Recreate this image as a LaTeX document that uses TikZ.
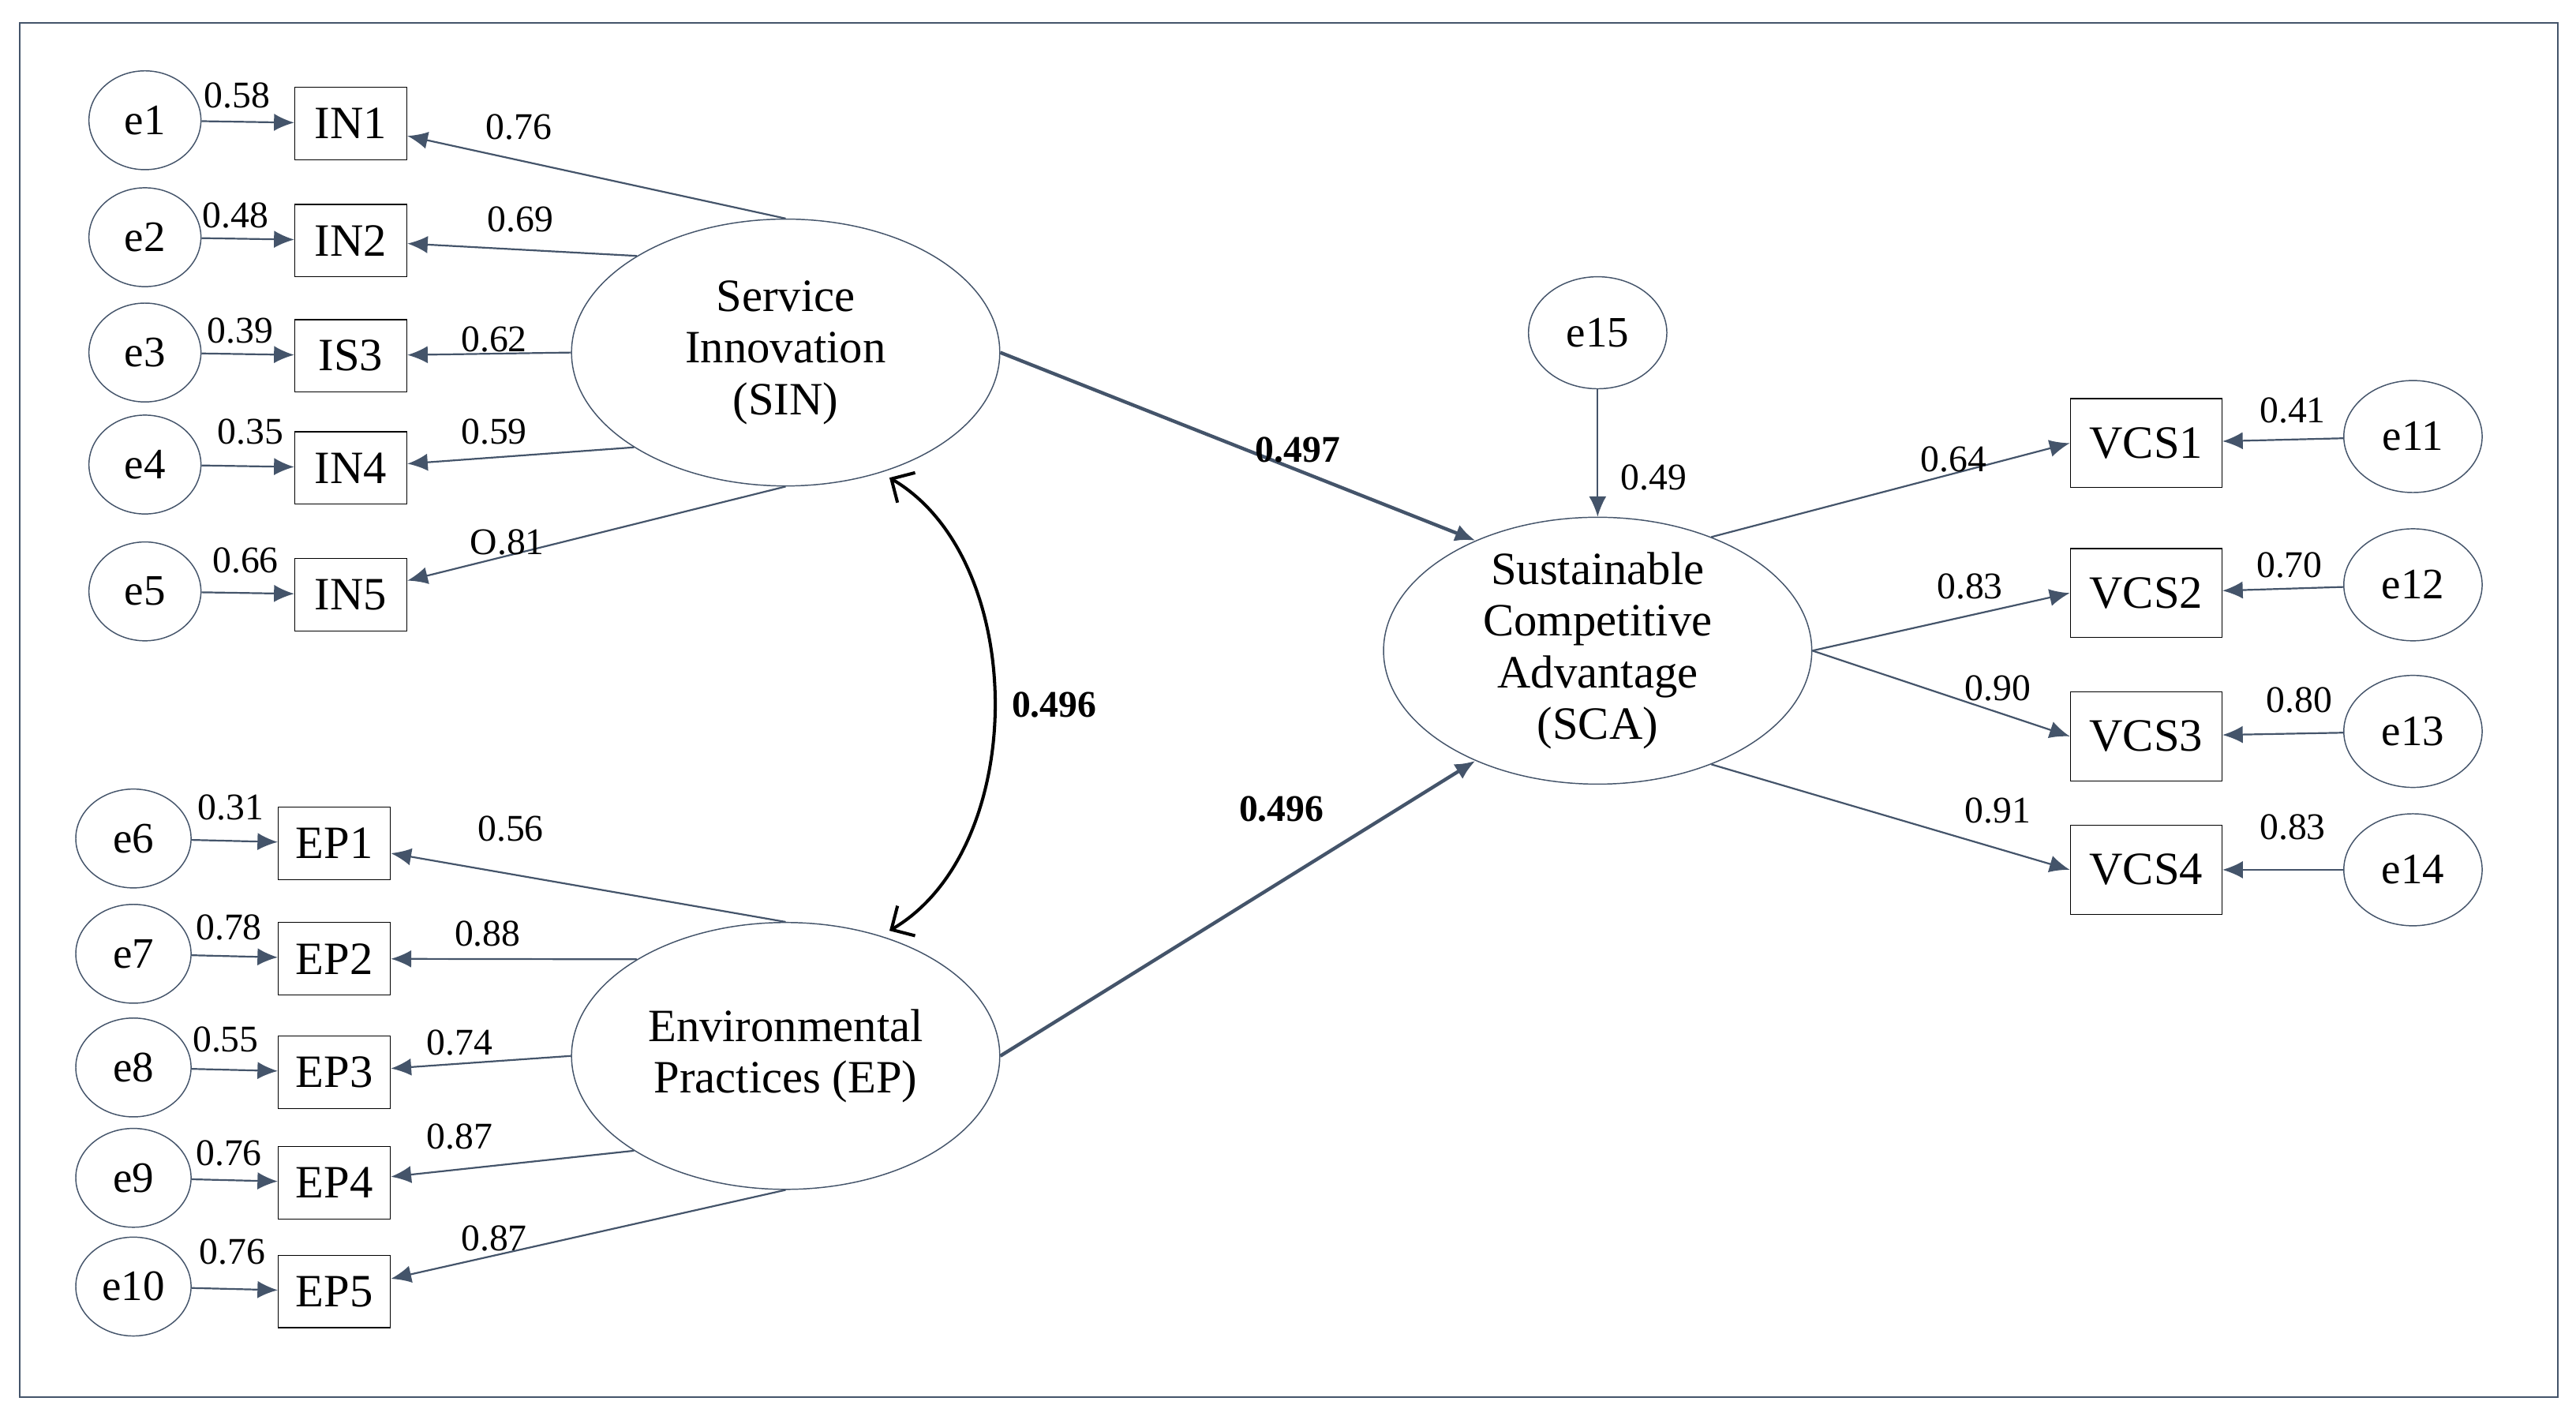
\documentclass[tikz,border=0pt]{standalone}
\usepackage{fontspec}
\setmainfont{Liberation Serif}
\usetikzlibrary{shapes.geometric,arrows.meta}
\definecolor{ac}{HTML}{44546A}
\begin{document}
\begin{tikzpicture}[x=0.02cm,y=-0.02cm,
 err/.style={ellipse,draw=ac,minimum width=68*0.02cm,minimum height=60*0.02cm,inner sep=0pt,font=\fontsize{15}{16}\selectfont},
 erb/.style={err,minimum width=84*0.02cm,minimum height=68*0.02cm},
 box/.style={rectangle,draw=black,minimum width=68*0.02cm,minimum height=44*0.02cm,inner sep=0pt,font=\fontsize{16}{17}\selectfont},
 vbox/.style={box,minimum width=92*0.02cm,minimum height=54*0.02cm},
 lat/.style={ellipse,draw=ac,minimum width=260*0.02cm,minimum height=162*0.02cm,inner sep=0pt},
 lt/.style={align=center,inner sep=0pt,font=\fontsize{16}{17.8}\selectfont},
 arr/.style={draw=ac,-{Latex[length=7pt,width=6pt]},line width=0.6pt},
 sarr/.style={arr,line width=1.2pt},
 lb/.style={font=\fontsize{13}{14}\selectfont,inner sep=0pt},
 blb/.style={lb,font=\fontsize{13}{14}\selectfont\bfseries}]
\useasboundingbox (0,0) rectangle (1564,862);
\draw[ac,line width=0.6pt] (12,14) rectangle (1553,848);
% SIN side
\node[lat] (sin) at (477,214) {};
\node[lt] (sint) at (sin.center) {Service\\Innovation\\(SIN)};
\foreach \i/\y/\t in {1/75/IN1,2/146/IN2,3/216/IS3,4/284/IN4,5/361/IN5}{
  \node[err] (e\i) at (88,\y-2) {e\i};
  \node[box] (b\i) at (213,\y) {\t};
  \draw[arr] (e\i) -- (b\i);}
\draw[arr] (sin.90) -- (b1);
\draw[arr] (sin.147) -- (b2);
\draw[arr] (sin.180) -- (b3);
\draw[arr] (sin.212) -- (b4);
\draw[arr] (sin.270) -- (b5);
\foreach \x/\y/\t in {144/58/0.58,143/131/0.48,146/201/0.39,152/262/0.35,149/340/0.66,315/77/0.76,316/133/0.69,300/206/0.62,300/262/0.59,308/329/O.81}
  \node[lb] at (\x,\y) {\t};
% EP side
\node[lat] (ep) at (477,641) {};
\node[lt] (ept) at (ep.center) {Environmental\\Practices (EP)};
\foreach \i/\y/\t in {6/512/EP1,7/582/EP2,8/651/EP3,9/718/EP4,10/784/EP5}{
  \node[err,minimum width=70*0.02cm] (e\i) at (81,\y-3) {e\i};
  \node[box] (b\i) at (203,\y) {\t};
  \draw[arr] (e\i) -- (b\i);}
\draw[arr] (ep.90) -- (b6);
\draw[arr] (ep.147) -- (b7);
\draw[arr] (ep.180) -- (b8);
\draw[arr] (ep.212) -- (b9);
\draw[arr] (ep.270) -- (b10);
\foreach \x/\y/\t in {140/490/0.31,139/563/0.78,137/631/0.55,139/700/0.76,141/760/0.76,310/503/0.56,296/567/0.88,279/633/0.74,279/690/0.87,300/752/0.87}
  \node[lb] at (\x,\y) {\t};
% covariance
\coordinate (c1) at (540,290);
\coordinate (c2) at (540,565);
\draw[{Straight Barb[length=6pt]}-{Straight Barb[length=6pt]},line width=1.1pt] (c1) .. controls (625,340) and (625,515) .. (c2);
\node[blb] at (640,428) {0.496};
% SCA
\node[lat] (sca) at (970,395) {};
\node[lt] (scat) at (sca.center) {Sustainable\\Competitive\\Advantage\\(SCA)};
\node[erb] (e15) at (970,202) {e15};
\draw[arr] (e15) -- (sca);
\node[lb] at (1004,290) {0.49};
\draw[sarr] (sin.east) -- (sca.138);
\draw[sarr] (ep.east) -- (sca.222);
\node[blb] at (788,273) {0.497};
\node[blb] at (778,491) {0.496};
% right
\foreach \i/\y in {1/269,2/360,3/447,4/528}{
  \node[vbox] (v\i) at (1303,\y) {VCS\i};}
\node[erb] (e11) at (1465,265) {e11};
\node[erb] (e12) at (1465,355) {e12};
\node[erb] (e13) at (1465,444) {e13};
\node[erb] (e14) at (1465,528) {e14};
\draw[arr] (e11) -- (v1);
\draw[arr] (e12) -- (v2);
\draw[arr] (e13) -- (v3);
\draw[arr] (e14) -- (v4);
\draw[arr] (sca.45) -- (v1.west);
\draw[arr] (sca.east) -- (v2.west);
\draw[arr] (sca.east) -- (v3.west);
\draw[arr] (sca.-45) -- (v4.west);
\foreach \x/\y/\t in {1186/279/0.64,1196/356/0.83,1213/418/0.90,1213/492/0.91,1392/249/0.41,1390/343/0.70,1396/425/0.80,1392/502/0.83}
  \node[lb] at (\x,\y) {\t};
\end{tikzpicture}
\end{document}
